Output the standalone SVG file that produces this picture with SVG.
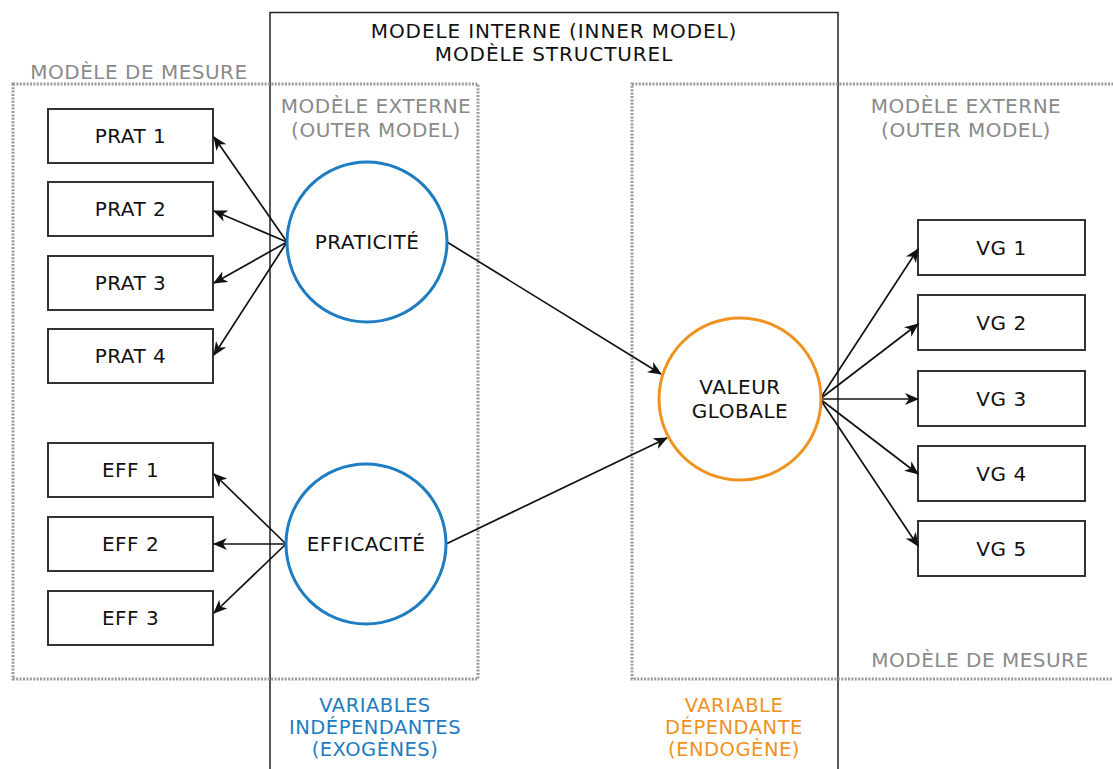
<svg xmlns="http://www.w3.org/2000/svg" width="1113" height="769" viewBox="0 0 1113 769">
<defs>
<marker id="ah" viewBox="0 0 14 12" refX="13" refY="6" markerWidth="14" markerHeight="12" markerUnits="userSpaceOnUse" orient="auto">
<path d="M0,0 L14,6 L0,12 L4,6 z" fill="#111"/>
</marker>
<style>
text{font-family:"DejaVu Sans","Liberation Sans",sans-serif;font-size:20px;text-anchor:middle;letter-spacing:0.5px}
.t{fill:#111}
.g{fill:#8a8a8a}
.b{fill:#1e7cc2;font-size:19.5px}
.o{fill:#f0921f;font-size:19.5px}
.box{fill:#fff;stroke:#333;stroke-width:2}
.dot{fill:none;stroke:#9a9a9a;stroke-width:3;stroke-dasharray:2 1.4}
.frame{fill:none;stroke:#222;stroke-width:1.5}
.lv{fill:#fff;stroke-width:3}
.conn{fill:none;stroke:#111;stroke-width:1.7;marker-end:url(#ah)}
</style>
</defs>
<rect width="1113" height="769" fill="#fff"/>

<g id="inner-model">
<path class="frame" d="M270,780 V12.5 H838 V780"/>
<text class="t" x="554" y="38" style="letter-spacing:0.9px">MODELE INTERNE (INNER MODEL)</text>
<text class="t" x="554" y="61" style="letter-spacing:0.9px">MODÈLE STRUCTUREL</text>
</g>

<g id="measure-left">
<rect class="dot" x="13" y="84" width="465" height="595"/>
<text class="g" x="139" y="79">MODÈLE DE MESURE</text>
<text class="g" x="376" y="113">MODÈLE EXTERNE</text>
<text class="g" x="376" y="137">(OUTER MODEL)</text>
</g>

<g id="measure-right">
<rect class="dot" x="632" y="84" width="500" height="595"/>
<text class="g" x="966" y="113">MODÈLE EXTERNE</text>
<text class="g" x="966" y="137">(OUTER MODEL)</text>
<text class="g" x="980" y="667">MODÈLE DE MESURE</text>
</g>

<g id="prat1"><rect class="box" x="48" y="109" width="165" height="54"/><text class="t" x="130.5" y="143">PRAT 1</text></g>
<g id="prat2"><rect class="box" x="48" y="182" width="165" height="54"/><text class="t" x="130.5" y="216">PRAT 2</text></g>
<g id="prat3"><rect class="box" x="48" y="256" width="165" height="54"/><text class="t" x="130.5" y="290">PRAT 3</text></g>
<g id="prat4"><rect class="box" x="48" y="329" width="165" height="54"/><text class="t" x="130.5" y="363">PRAT 4</text></g>

<g id="eff1"><rect class="box" x="48" y="443" width="165" height="54"/><text class="t" x="130.5" y="477">EFF 1</text></g>
<g id="eff2"><rect class="box" x="48" y="517" width="165" height="54"/><text class="t" x="130.5" y="551">EFF 2</text></g>
<g id="eff3"><rect class="box" x="48" y="591" width="165" height="54"/><text class="t" x="130.5" y="625">EFF 3</text></g>

<g id="vg1"><rect class="box" x="918" y="220" width="167" height="55"/><text class="t" x="1001.5" y="255">VG 1</text></g>
<g id="vg2"><rect class="box" x="918" y="295" width="167" height="55"/><text class="t" x="1001.5" y="330">VG 2</text></g>
<g id="vg3"><rect class="box" x="918" y="371" width="167" height="55"/><text class="t" x="1001.5" y="406">VG 3</text></g>
<g id="vg4"><rect class="box" x="918" y="446" width="167" height="55"/><text class="t" x="1001.5" y="481">VG 4</text></g>
<g id="vg5"><rect class="box" x="918" y="521" width="167" height="55"/><text class="t" x="1001.5" y="556">VG 5</text></g>

<g id="connectors">
<line class="conn" x1="287" y1="242" x2="214" y2="137"/>
<line class="conn" x1="287" y1="242" x2="214" y2="211"/>
<line class="conn" x1="287" y1="242" x2="214" y2="283"/>
<line class="conn" x1="287" y1="242" x2="214" y2="355"/>
<line class="conn" x1="286" y1="544" x2="214" y2="474"/>
<line class="conn" x1="286" y1="544" x2="214" y2="544"/>
<line class="conn" x1="286" y1="544" x2="214" y2="613"/>
<line class="conn" x1="447" y1="242" x2="661" y2="374"/>
<line class="conn" x1="446" y1="544" x2="667" y2="438"/>
<line class="conn" x1="820" y1="399" x2="918" y2="249"/>
<line class="conn" x1="820" y1="399" x2="918" y2="324"/>
<line class="conn" x1="820" y1="399" x2="918" y2="399"/>
<line class="conn" x1="820" y1="399" x2="918" y2="474"/>
<line class="conn" x1="820" y1="399" x2="918" y2="546"/>
</g>

<g id="praticite"><circle class="lv" cx="367" cy="242" r="80" stroke="#1e7cc2"/><text class="t" x="367" y="249">PRATICITÉ</text></g>
<g id="efficacite"><circle class="lv" cx="366" cy="544" r="80" stroke="#1e7cc2"/><text class="t" x="366" y="551">EFFICACITÉ</text></g>
<g id="valeur"><circle class="lv" cx="740" cy="399" r="81" stroke="#f0921f"/><text class="t" x="740" y="394">VALEUR</text><text class="t" x="740" y="418">GLOBALE</text></g>

<g id="legend-indep">
<text class="b" x="375" y="712">VARIABLES</text>
<text class="b" x="375" y="734">INDÉPENDANTES</text>
<text class="b" x="375" y="756">(EXOGÈNES)</text>
</g>
<g id="legend-dep">
<text class="o" x="734" y="712">VARIABLE</text>
<text class="o" x="734" y="734">DÉPENDANTE</text>
<text class="o" x="734" y="756">(ENDOGÈNE)</text>
</g>
</svg>
